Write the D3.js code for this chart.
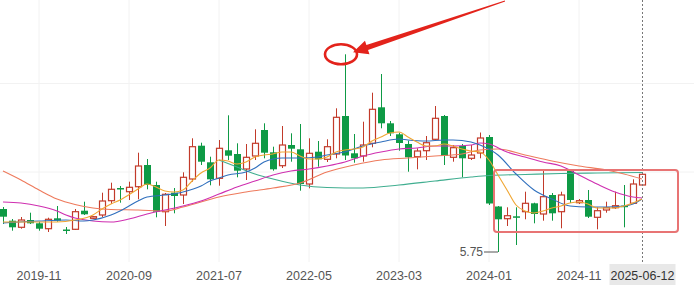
<!DOCTYPE html>
<html>
<head>
<meta charset="utf-8">
<script src="https://cdn.jsdelivr.net/npm/d3@7"></script>
<style>
  html, body { margin: 0; padding: 0; background: #fff; }
  svg { display: block; font-family: "Liberation Sans", Arial, sans-serif; }
</style>
</head>
<body>
<div id="chart"></div>
<script>
// monthly candles, 2019-07 .. 2025-06
const months = [];
for (let y = 2019, m = 7; months.length < 72; m++) {
  if (m > 12) { m = 1; y++; }
  months.push(`${y}-${String(m).padStart(2, "0")}`);
}

const open = [10.05, 8.88, 8.22, 8.95, 8.62, 8.08, 9.12, 8.0, 8.02, 9.88,
  9.12, 9.45, 10.88, 12.15, 11.78, 12.28, 14.45, 12.45, 9.78, 11.68,
  11.45, 13.05, 16.38, 14.72, 13.12, 15.92, 15.55, 14.05, 15.35, 17.95,
  15.72, 14.38, 16.45, 16.02, 12.55, 15.78, 15.02, 15.55, 19.35, 15.62,
  15.35, 16.62, 20.22, 18.62, 17.52, 16.55, 15.28, 15.88, 17.02, 19.35,
  15.22, 16.35, 15.12, 15.65, 17.25, 10.3, 9.08, 9.32, 9.78, 10.62,
  9.55, 11.45, 9.78, 13.95, 10.68, 10.95, 9.22, 9.95, 10.18, 10.38,
  10.62, 12.45];
const high = [10.25, 9.05, 9.25, 9.68, 8.78, 9.18, 10.35, 8.25, 10.05, 10.78,
  9.35, 11.68, 12.68, 12.35, 12.78, 15.68, 15.05, 12.78, 11.65, 12.15,
  13.72, 17.12, 16.68, 15.28, 16.95, 19.42, 16.62, 16.55, 18.02, 18.62,
  16.28, 18.35, 17.62, 18.55, 17.12, 16.85, 17.02, 20.12, 25.52, 17.55,
  18.78, 21.68, 23.55, 18.85, 17.68, 16.88, 16.12, 17.35, 20.35, 19.45,
  16.45, 16.55, 16.45, 17.7, 17.45, 10.35, 10.22, 10.22, 11.78, 10.68,
  13.88, 11.65, 11.78, 13.95, 11.05, 11.95, 10.22, 10.78, 11.78, 12.45,
  13.02, 13.62];
const low = [8.55, 7.88, 8.08, 8.55, 7.88, 7.75, 8.78, 7.55, 7.95, 9.45,
  9.05, 9.25, 10.55, 10.68, 10.95, 11.02, 12.02, 9.22, 8.35, 9.62,
  10.55, 12.78, 14.45, 12.42, 12.38, 14.95, 13.22, 12.95, 14.95, 15.12,
  13.88, 14.15, 14.78, 11.88, 12.12, 14.28, 14.75, 15.12, 14.95, 14.68,
  14.78, 16.22, 18.12, 17.35, 15.88, 13.78, 14.02, 14.95, 16.85, 14.45,
  14.78, 13.22, 14.95, 15.12, 10.45, 5.75, 8.35, 6.45, 9.02, 8.62,
  8.88, 8.88, 8.12, 10.65, 10.55, 9.15, 8.02, 9.68, 10.05, 8.22,
  10.55, 12.35];
const close = [9.28, 8.22, 8.95, 8.62, 8.08, 9.02, 8.88, 7.85, 9.78, 9.52,
  9.28, 10.85, 12.02, 12.05, 12.22, 14.35, 12.45, 9.78, 11.52, 11.35,
  13.22, 16.28, 14.78, 13.02, 16.12, 15.38, 13.88, 15.22, 16.62, 15.68,
  14.02, 16.45, 16.08, 12.55, 15.62, 15.02, 16.28, 19.22, 15.4, 15.12,
  16.45, 20.02, 18.62, 17.62, 16.65, 15.22, 15.85, 16.68, 19.12, 15.35,
  16.18, 15.12, 15.45, 17.15, 10.6, 9.02, 9.38, 9.22, 10.62, 9.55,
  11.28, 9.62, 11.45, 10.95, 10.88, 9.28, 9.88, 10.18, 10.38, 10.28,
  12.55, 13.52];

// moving averages: [month index, price]
const ma5 = [[0, 8.75], [3, 8.75], [6, 8.75], [8, 8.95], [10, 9.45], [11, 10.05],
  [12, 10.55], [13, 10.95], [15, 12.05], [16, 12.55], [17, 12.25], [18, 11.85],
  [19, 11.75], [20, 11.95], [21, 12.85], [22, 13.65], [23, 14.15], [24, 14.95],
  [25, 14.85], [26, 14.55], [27, 14.75], [28, 15.25], [29, 15.45], [30, 15.55],
  [31, 15.75], [32, 15.75], [33, 15.35], [34, 15.05], [35, 15.05], [36, 15.25],
  [37, 15.75], [38, 15.95], [39, 16.05], [40, 16.25], [41, 16.85], [42, 17.25],
  [43, 17.65], [44, 17.75], [45, 17.25], [46, 16.75], [47, 16.35], [48, 16.35],
  [49, 16.55], [50, 16.35], [51, 16.05], [52, 15.85], [53, 15.75], [54, 14.95],
  [55, 13.45], [56, 11.95], [57, 10.45], [58, 9.85], [59, 9.65], [60, 9.85],
  [61, 10.15], [62, 10.35], [63, 10.65], [64, 10.75], [65, 10.55], [66, 10.15],
  [67, 10.15], [68, 10.15], [69, 10.35], [70, 10.65], [71, 11.05]];
const ma10 = [[0, 8.65], [4, 8.85], [7, 8.95], [9, 8.85], [10, 8.95], [12, 9.45],
  [13, 9.85], [14, 10.35], [15, 10.85], [16, 11.25], [18, 11.45], [20, 11.75],
  [22, 12.35], [23, 12.85], [24, 13.15], [25, 13.45], [27, 13.75], [28, 14.15],
  [29, 14.75], [31, 15.15], [33, 15.15], [35, 15.25], [36, 15.45], [38, 15.75],
  [40, 16.35], [42, 16.75], [44, 17.05], [45, 16.95], [47, 16.85], [49, 16.95],
  [50, 16.95], [52, 16.75], [53, 16.45], [55, 15.45], [57, 13.55], [59, 11.95],
  [61, 11.05], [63, 10.35], [65, 10.25], [67, 10.25], [69, 10.35], [70, 10.55],
  [71, 11.05]];
const ma20 = [[0, 10.75], [2, 10.65], [4, 10.35], [6, 9.85], [7, 9.45], [8, 9.15],
  [10, 8.85], [12, 8.75], [14, 9.05], [16, 9.55], [18, 9.95], [20, 10.35],
  [22, 10.85], [24, 11.55], [26, 12.25], [28, 12.85], [30, 13.45], [32, 13.85],
  [34, 14.05], [36, 14.35], [38, 14.75], [40, 15.35], [42, 15.75], [44, 16.05],
  [46, 16.15], [48, 16.35], [50, 16.35], [52, 16.45], [53, 16.65], [54, 16.55],
  [56, 15.75], [58, 15.25], [60, 14.75], [62, 14.35], [64, 13.45], [66, 12.55],
  [68, 11.75], [70, 11.25], [71, 11.15]];
const ma30 = [[0, 13.85], [2, 12.95], [4, 11.95], [6, 11.05], [8, 10.5], [10, 10.15],
  [12, 10.0], [15, 9.95], [18, 9.85], [20, 10.25], [22, 10.75], [24, 11.25],
  [27, 11.75], [30, 12.15], [33, 12.65], [36, 13.75], [39, 14.45], [42, 14.95],
  [45, 15.15], [48, 15.35], [51, 15.55], [53, 15.95], [55, 16.05], [58, 15.45],
  [61, 14.85], [64, 14.35], [67, 13.95], [69, 13.55], [71, 13.05]];
const ma60 = [[24, 14.95], [26, 14.25], [28, 13.55], [30, 13.05], [33, 12.45],
  [36, 12.2], [40, 12.15], [44, 12.45], [48, 12.85], [52, 13.25], [54, 13.4],
  [58, 13.5], [62, 13.6], [66, 13.65], [71, 13.7]];

const tickMonths = ["2019-11", "2020-09", "2021-07", "2022-05", "2023-03", "2024-01", "2024-11"];
const lastDate = "2025-06-12";
const lowLabel = "5.75";

const width = 694, height = 294;
const svg = d3.select("#chart").append("svg")
  .attr("width", width).attr("height", height);

const x = d3.scaleLinear().domain([0, months.length - 1]).range([3, 642]);
const y = d3.scaleLinear().domain([4.75, 30.95]).range([262, 0]);

// faint grid
svg.append("g").selectAll("line")
  .data(tickMonths)
  .join("line")
  .attr("x1", (d) => x(months.indexOf(d))).attr("x2", (d) => x(months.indexOf(d)))
  .attr("y1", 0).attr("y2", 262)
  .attr("stroke", "#f2f2f2");
svg.append("g").selectAll("line")
  .data([22.6, 13.75])
  .join("line")
  .attr("x1", 0).attr("x2", width)
  .attr("y1", (d) => y(d)).attr("y2", (d) => y(d))
  .attr("stroke", "#f2f2f2");

// candles
const candles = months.map((m, i) => ({
  i, o: open[i], h: high[i], l: low[i], c: close[i], up: close[i] >= open[i]
}));
const upColor = "#c23a2a", downColor = "#0e9a45";
const bodyW = 7;

const cg = svg.append("g").selectAll("g").data(candles).join("g");
cg.append("line")
  .attr("x1", (d) => Math.round(x(d.i)) + 0.5).attr("x2", (d) => Math.round(x(d.i)) + 0.5)
  .attr("y1", (d) => y(d.h)).attr("y2", (d) => y(d.l))
  .attr("stroke", (d) => (d.up ? upColor : downColor));
cg.append("rect")
  .attr("x", (d) => Math.round(x(d.i)) - 3 + (d.up ? 0.5 : 0))
  .attr("width", (d) => (d.up ? bodyW - 1 : bodyW))
  .attr("y", (d) => y(Math.max(d.o, d.c)))
  .attr("height", (d) => Math.max(1.5, Math.abs(y(d.o) - y(d.c))))
  .attr("fill", (d) => (d.up ? "#fff" : downColor))
  .attr("stroke", (d) => (d.up ? upColor : "none"))
  .attr("stroke-width", 1.2);

// moving averages
const line = d3.line()
  .x((d) => x(d[0]))
  .y((d) => y(d[1]))
  .curve(d3.curveMonotoneX);
const maSeries = [
  { data: ma60, color: "#40ae90" },
  { data: ma30, color: "#ee7a5c" },
  { data: ma20, color: "#cf2fb0" },
  { data: ma10, color: "#2f6fbd" },
  { data: ma5, color: "#f0a632" }
];
svg.append("g").selectAll("path")
  .data(maSeries)
  .join("path")
  .attr("d", (d) => line(d.data))
  .attr("fill", "none")
  .attr("stroke", (d) => d.color)
  .attr("stroke-width", 1.1);

// lowest point marker
const lowIdx = low.indexOf(d3.min(low));
svg.append("path")
  .attr("d", `M${x(lowIdx)},${y(low[lowIdx])}H${x(lowIdx) - 14}`)
  .attr("stroke", "#555").attr("fill", "none");
svg.append("text")
  .attr("x", x(lowIdx) - 15).attr("y", y(low[lowIdx]) + 4)
  .attr("text-anchor", "end")
  .attr("font-size", 12).attr("fill", "#555")
  .text(lowLabel);

// crosshair on the last candle
const lastX = Math.round(x(months.length - 1)) + 0.5;
svg.append("line")
  .attr("x1", lastX).attr("x2", lastX).attr("y1", 0).attr("y2", 264)
  .attr("stroke", "#777").attr("stroke-dasharray", "2,2");

// x axis labels
svg.append("g").selectAll("text")
  .data(tickMonths)
  .join("text")
  .attr("x", (d) => x(months.indexOf(d)))
  .attr("y", 280)
  .attr("text-anchor", "middle")
  .attr("font-size", 12.5)
  .attr("fill", "#555")
  .text((d) => d);

svg.append("rect")
  .attr("x", lastX - 33).attr("y", 264).attr("width", 66).attr("height", 21)
  .attr("fill", "#e8e8e8");
svg.append("text")
  .attr("x", lastX).attr("y", 280)
  .attr("text-anchor", "middle")
  .attr("font-size", 12.5)
  .attr("fill", "#333")
  .text(lastDate);

// red annotations
const peakIdx = high.indexOf(d3.max(high));
const px = x(peakIdx), py = y(high[peakIdx]);
svg.append("ellipse")
  .attr("cx", px - 4).attr("cy", py)
  .attr("rx", 16).attr("ry", 10)
  .attr("fill", "none").attr("stroke", "#e3231b").attr("stroke-width", 2.6);

const tip = [px + 8, py - 2], tail = [505, 1];
const dx = tail[0] - tip[0], dy = tail[1] - tip[1];
const len = Math.hypot(dx, dy);
const ux = dx / len, uy = dy / len, nx = -uy, ny = ux;
const bx = tip[0] + ux * 15, by = tip[1] + uy * 15;
const arrowPts = [
  tip,
  [bx + nx * 7, by + ny * 7],
  [bx + nx * 2.6, by + ny * 2.6],
  [tail[0] + nx * 0.5, tail[1] + ny * 0.5],
  [tail[0] - nx * 0.5, tail[1] - ny * 0.5],
  [bx - nx * 2.6, by - ny * 2.6],
  [bx - nx * 7, by - ny * 7]
];
svg.append("polygon")
  .attr("points", arrowPts.map((p) => p.join(",")).join(" "))
  .attr("fill", "#e3231b");

// range box around the 2024-25 candles
svg.append("rect")
  .attr("x", x(54) + 5).attr("y", y(13.95))
  .attr("width", 678 - x(54) - 5).attr("height", y(7.75) - y(13.95))
  .attr("rx", 3)
  .attr("fill", "none").attr("stroke", "#e87474").attr("stroke-width", 2);
</script>
</body>
</html>
